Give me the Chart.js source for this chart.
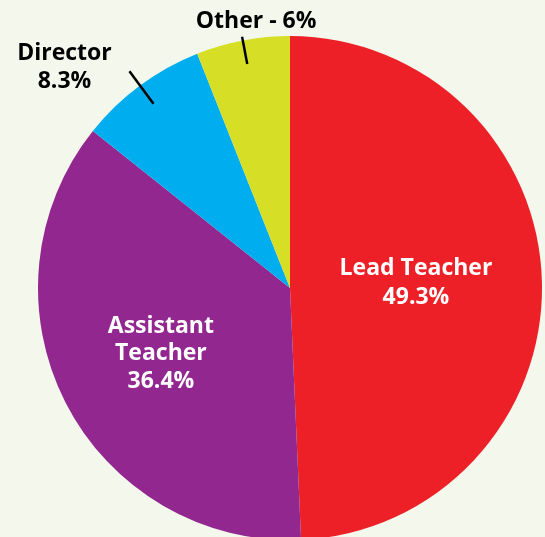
<!DOCTYPE html>
<html>
<head>
<meta charset="utf-8">
<script src="https://cdn.jsdelivr.net/npm/chart.js@4"></script>
<style>
  html, body { margin: 0; padding: 0; background: #f3f7ec; overflow: hidden; }
  #wrap { position: absolute; left: 0; top: 0; width: 545px; height: 545px; }
</style>
</head>
<body>
<div id="wrap"><canvas id="pie"></canvas></div>
<script>
// data
const roles = ['Lead Teacher', 'Assistant Teacher', 'Director', 'Other'];
const shares = [49.3, 36.4, 8.3, 6];
const sliceColors = ['#ed1f27', '#92278f', '#00aeef', '#d6df26'];
const labelLines = [
    ['Lead Teacher', '49.3%'],
    ['Assistant', 'Teacher', '36.4%'],
    ['Director', '8.3%'],
    ['Other - 6%']
];

// how each label sits: inside the slice, or outside with a short leader line
const labelLayout = [
    { inside: true, r: 0.5, lineH: 29, dy: -2, color: '#ffffff' },
    { inside: true, r: 0.575, lineH: 27.5, dy: 0, color: '#ffffff' },
    { inside: false, from: 0.91, to: 1.07, dx: -65, dy: -4, lineH: 28, color: '#000000' },
    { inside: false, from: 0.905, to: 1.015, dx: 14, dy: -15, lineH: 28, color: '#000000' }
];

const sliceLabels = {
    id: 'sliceLabels',
    afterDatasetsDraw(chart) {
        const ctx = chart.ctx;
        const meta = chart.getDatasetMeta(0);
        ctx.save();
        ctx.font = 'bold 23px "Open Sans", "Noto Sans", sans-serif';
        ctx.textAlign = 'center';
        ctx.textBaseline = 'middle';
        meta.data.forEach((arc, i) => {
            const p = arc.getProps(['x', 'y', 'startAngle', 'endAngle', 'outerRadius'], true);
            const mid = (p.startAngle + p.endAngle) / 2;
            const L = labelLayout[i];
            const lines = labelLines[i];
            let cx, cy;
            if (L.inside) {
                cx = p.x + Math.cos(mid) * p.outerRadius * L.r;
                cy = p.y + Math.sin(mid) * p.outerRadius * L.r + L.dy;
            } else {
                const x1 = p.x + Math.cos(mid) * p.outerRadius * L.from;
                const y1 = p.y + Math.sin(mid) * p.outerRadius * L.from;
                const x2 = p.x + Math.cos(mid) * p.outerRadius * L.to;
                const y2 = p.y + Math.sin(mid) * p.outerRadius * L.to;
                ctx.strokeStyle = '#000000';
                ctx.lineWidth = 2.5;
                ctx.beginPath();
                ctx.moveTo(x1, y1);
                ctx.lineTo(x2, y2);
                ctx.stroke();
                cx = x2 + L.dx;
                cy = y2 + L.dy;
            }
            ctx.fillStyle = L.color;
            const top = cy - (lines.length - 1) * L.lineH / 2;
            lines.forEach((t, k) => ctx.fillText(t, cx, top + k * L.lineH));
        });
        ctx.restore();
    }
};

new Chart(document.getElementById('pie'), {
    type: 'pie',
    data: {
        labels: roles,
        datasets: [{
            data: shares,
            backgroundColor: sliceColors,
            borderWidth: 0
        }]
    },
    options: {
        responsive: true,
        maintainAspectRatio: false,
        animation: false,
        layout: { padding: { left: 38, right: 3, top: 36, bottom: 5 } },
        plugins: {
            legend: { display: false },
            tooltip: { enabled: false }
        }
    },
    plugins: [sliceLabels]
});
</script>
</body>
</html>
